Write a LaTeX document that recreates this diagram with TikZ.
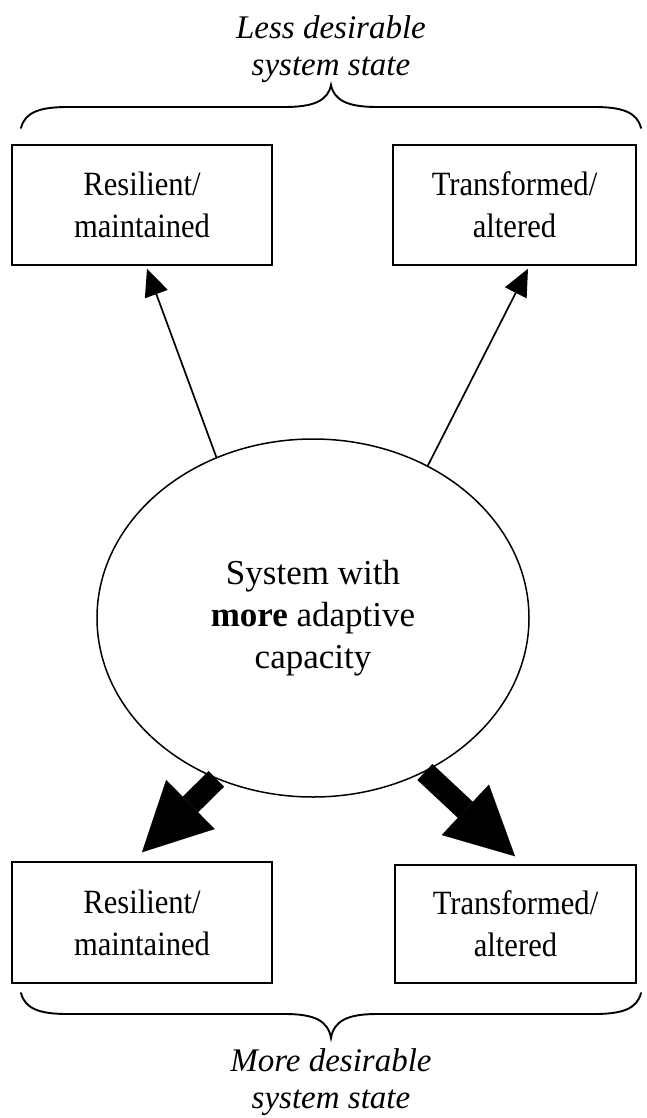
\documentclass[tikz,border=0pt]{standalone}
\usepackage{fontspec}
\setmainfont{Liberation Serif}
\newfontfamily\narrowserif[FakeStretch=0.9]{Liberation Serif}
\usetikzlibrary{shapes.geometric,arrows.meta,calc}
\begin{document}
\begin{tikzpicture}[x=1pt,y=-1pt,
  box/.style={draw,line width=1.5pt,inner sep=0pt,align=center,
    font=\narrowserif\fontsize{34}{42}\selectfont},
  caption/.style={align=center,inner sep=0pt,font=\fontsize{33}{37}\selectfont\itshape},
  thinarrow/.style={line width=1.7pt,-{Triangle[length=27pt,width=24pt]}},
  thickarrow/.style={line width=22pt,-{Triangle[length=68pt,width=69pt,line width=0.1pt]}},
  bracestyle/.style={line width=1.9pt,line cap=round}]
\useasboundingbox (0,0) rectangle (646,1118);
% texts at top and bottom
\node[caption] (less) at (331,49) {Less desirable\\system state};
\node[caption] (more) at (331,1082) {More desirable\\system state};
% boxes
\node[box,minimum width=260pt,minimum height=120pt] (tl) at (142,205) {Resilient/\\maintained};
\node[box,minimum width=243pt,minimum height=120pt] (tr) at (514.5,205) {Transformed/\\altered};
\node[box,minimum width=260pt,minimum height=121pt] (bl) at (142,922.5) {Resilient/\\maintained};
\node[box,minimum width=241pt,minimum height=118pt] (br) at (515.5,924) {Transformed/\\altered};
% central ellipse
\node[ellipse,draw,line width=1.5pt,inner sep=0pt,minimum width=432pt,minimum height=358pt,
  align=center,font=\fontsize{35}{42}\selectfont] (sys) at (313,618)
  {System with\\\textbf{more} adaptive\\capacity};
% arrows
\draw[thinarrow] (sys.121.2) -- ($(tl.south)+(5,3)$);
\draw[thinarrow] (sys.53.8) -- ($(tr.south)+(13.5,3)$);
\draw[thickarrow] (sys.239) -- ($(bl.north)+(0,-9)$);
\draw[thickarrow] (sys.-54) -- ($(br.north)+(-0.5,-8)$);
% braces
\draw[bracestyle] (21,128) .. controls (25,112) and (40,107) .. (68,107)
  -- (285,107) .. controls (315,107) and (328,100) .. (331,85)
  .. controls (334,100) and (347,107) .. (377,107)
  -- (594,107) .. controls (622,107) and (637,112) .. (641,128);
\draw[bracestyle] (21,993) .. controls (25,1009) and (40,1014) .. (68,1014)
  -- (285,1014) .. controls (315,1014) and (328,1021) .. (331,1038)
  .. controls (334,1021) and (347,1014) .. (377,1014)
  -- (594,1014) .. controls (622,1014) and (637,1009) .. (641,993);
\end{tikzpicture}
\end{document}
